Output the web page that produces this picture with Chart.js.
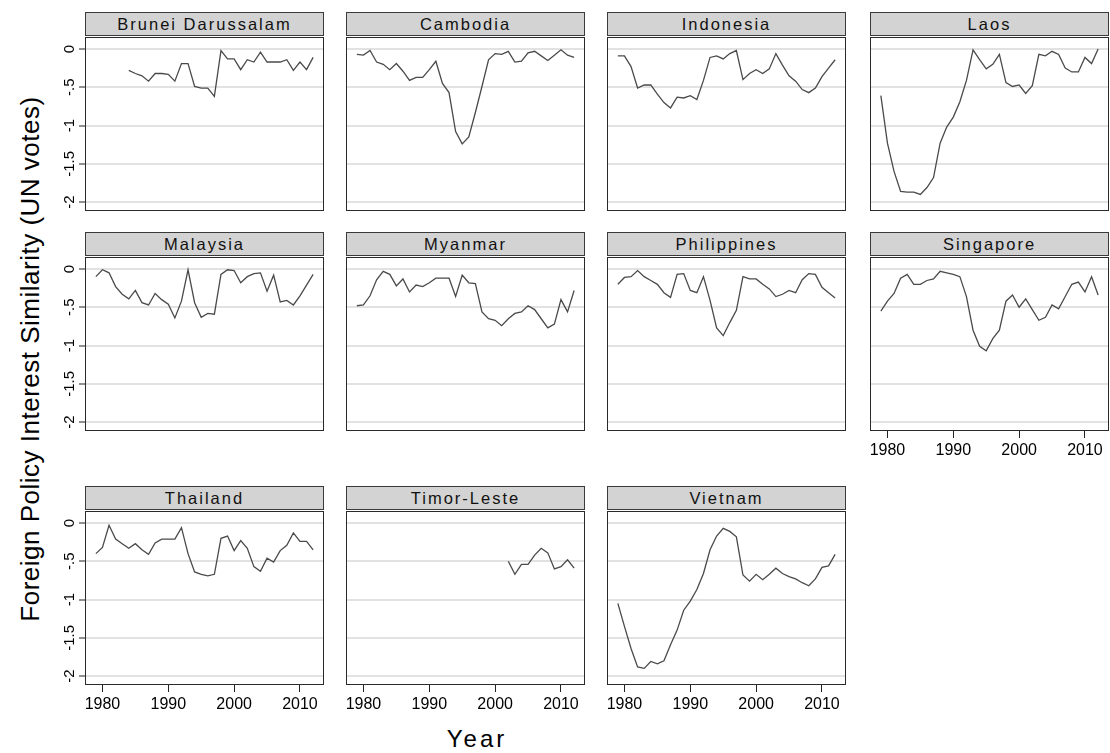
<!DOCTYPE html>
<html>
<head>
<meta charset="utf-8">
<script src="https://cdn.jsdelivr.net/npm/chart.js@4.4.1/dist/chart.umd.min.js"></script>
<style>
  body { margin: 0; background: #fff; }
  #page { position: relative; width: 1110px; height: 753px; overflow: hidden;
          font-family: "Liberation Sans", Arial, sans-serif; color: #000; }
  .hdr { position: absolute; box-sizing: border-box; width: 239px; height: 24px;
         background: #d3d3d3; border: 1px solid #3a3a3a; text-align: center;
         font-size: 16.5px; letter-spacing: 2px; line-height: 22px; color: #111; }
  .cv { position: absolute; }
  #ytitle { position: absolute; left: 30px; top: 359px; white-space: nowrap;
            transform: translate(-50%, -50%) rotate(-90deg); font-size: 26px; letter-spacing: 0.5px; }
  #xtitle { position: absolute; left: 477px; top: 739px; transform: translate(-50%, -50%);
            font-size: 24px; letter-spacing: 3px; }
</style>
</head>
<body>
<div id="page">
  <div id="ytitle">Foreign Policy Interest Similarity (UN votes)</div>
  <div id="xtitle">Year</div>
</div>
<script>
const years = [1979, 1980, 1981, 1982, 1983, 1984, 1985, 1986, 1987, 1988, 1989, 1990,
  1991, 1992, 1993, 1994, 1995, 1996, 1997, 1998, 1999, 2000, 2001, 2002, 2003, 2004,
  2005, 2006, 2007, 2008, 2009, 2010, 2011, 2012];

const xTicks = [1980, 1990, 2000, 2010];
const yTicks = [0, -0.5, -1, -1.5, -2];
const yTickLabels = ["0", "-.5", "-1", "-1.5", "-2"];

// values 1979..2012, null where the country has no votes
const brunei = [null, null, null, null, null,
  -0.28, -0.32, -0.35, -0.42, -0.32, -0.32, -0.33, -0.42, -0.19, -0.19, -0.49, -0.51,
  -0.51, -0.62, -0.02, -0.13, -0.13, -0.27, -0.14, -0.17, -0.04, -0.17, -0.17, -0.17,
  -0.14, -0.28, -0.17, -0.27, -0.11];
const cambodia = [-0.07, -0.08, -0.02, -0.17, -0.20, -0.27, -0.19, -0.29, -0.41, -0.37,
  -0.37, -0.27, -0.16, -0.45, -0.57, -1.08, -1.24, -1.15, -0.83, -0.49, -0.14, -0.06,
  -0.07, -0.03, -0.17, -0.16, -0.05, -0.03, -0.09, -0.15, -0.08, -0.01, -0.08, -0.11];
const indonesia = [-0.09, -0.09, -0.23, -0.51, -0.47, -0.47, -0.59, -0.70, -0.77, -0.63,
  -0.64, -0.61, -0.66, -0.41, -0.11, -0.09, -0.13, -0.06, -0.02, -0.40, -0.32, -0.27,
  -0.32, -0.26, -0.06, -0.21, -0.35, -0.42, -0.53, -0.57, -0.51, -0.36, -0.25, -0.14];
const laos = [-0.61, -1.23, -1.60, -1.86, -1.87, -1.87, -1.90, -1.81, -1.68, -1.23,
  -1.02, -0.89, -0.69, -0.41, -0.01, -0.14, -0.26, -0.20, -0.07, -0.44, -0.49, -0.47,
  -0.58, -0.48, -0.07, -0.09, -0.03, -0.07, -0.25, -0.30, -0.30, -0.11, -0.19, 0.00];
const malaysia = [-0.10, -0.01, -0.05, -0.23, -0.33, -0.39, -0.28, -0.44, -0.47, -0.32,
  -0.40, -0.46, -0.64, -0.42, -0.01, -0.44, -0.63, -0.58, -0.59, -0.07, -0.01, -0.02,
  -0.18, -0.10, -0.06, -0.05, -0.29, -0.08, -0.43, -0.41, -0.47, -0.35, -0.21, -0.07];
const myanmar = [-0.48, -0.47, -0.35, -0.14, -0.03, -0.07, -0.22, -0.13, -0.30, -0.21,
  -0.23, -0.18, -0.12, -0.12, -0.12, -0.36, -0.08, -0.18, -0.19, -0.56, -0.65, -0.67,
  -0.74, -0.65, -0.58, -0.56, -0.48, -0.53, -0.65, -0.77, -0.72, -0.40, -0.56, -0.28];
const philippines = [-0.20, -0.11, -0.10, -0.02, -0.10, -0.15, -0.20, -0.31, -0.37, -0.07,
  -0.06, -0.28, -0.31, -0.10, -0.41, -0.77, -0.87, -0.70, -0.54, -0.10, -0.13, -0.13,
  -0.20, -0.26, -0.36, -0.33, -0.28, -0.31, -0.14, -0.06, -0.07, -0.24, -0.31, -0.38];
const singapore = [-0.55, -0.42, -0.32, -0.12, -0.07, -0.20, -0.20, -0.15, -0.13, -0.03,
  -0.05, -0.07, -0.10, -0.36, -0.80, -1.01, -1.07, -0.91, -0.80, -0.42, -0.34, -0.50,
  -0.39, -0.53, -0.67, -0.63, -0.47, -0.52, -0.36, -0.20, -0.17, -0.30, -0.10, -0.34];
const thailand = [-0.40, -0.32, -0.03, -0.21, -0.27, -0.33, -0.27, -0.35, -0.41, -0.26,
  -0.21, -0.21, -0.21, -0.06, -0.40, -0.64, -0.67, -0.69, -0.67, -0.20, -0.17, -0.36,
  -0.23, -0.33, -0.57, -0.63, -0.46, -0.51, -0.36, -0.29, -0.13, -0.24, -0.24, -0.35];
const timorLeste = [null, null, null, null, null, null, null, null, null, null, null, null,
  null, null, null, null, null, null, null, null, null, null, null,
  -0.50, -0.67, -0.54, -0.54, -0.42, -0.33, -0.39, -0.60, -0.57, -0.48, -0.59];
const vietnam = [-1.05, -1.35, -1.64, -1.88, -1.90, -1.81, -1.84, -1.80, -1.59, -1.40,
  -1.14, -1.02, -0.87, -0.66, -0.35, -0.17, -0.07, -0.11, -0.18, -0.68, -0.76, -0.67,
  -0.74, -0.67, -0.59, -0.66, -0.70, -0.73, -0.78, -0.82, -0.73, -0.58, -0.56, -0.41];

const panels = [
  { name: "Brunei Darussalam", values: brunei },
  { name: "Cambodia", values: cambodia },
  { name: "Indonesia", values: indonesia },
  { name: "Laos", values: laos },
  { name: "Malaysia", values: malaysia },
  { name: "Myanmar", values: myanmar },
  { name: "Philippines", values: philippines },
  { name: "Singapore", values: singapore },
  { name: "Thailand", values: thailand },
  { name: "Timor-Leste", values: timorLeste },
  { name: "Vietnam", values: vietnam },
];

// layout of the grid of plot regions
const COL_LEFT = [85, 346, 607, 870];
const ROW_TOP = [37, 257, 511];
const PLOT_W = 239;
const PLOT_H = 174;
const Y_AXIS_W = 30;
const X_AXIS_H = 34;
const X_MIN = 1977.35, X_MAX = 2013.65;
const Y_MIN = -2.117, Y_MAX = 0.157;

const FONT = '"Liberation Sans", Arial, sans-serif';
Chart.defaults.font.family = FONT;

const framePlugin = {
  id: "frame",
  afterDraw(chart, args, opts) {
    const { ctx, chartArea: a } = chart;
    ctx.save();
    ctx.strokeStyle = "#2a2a2a";
    ctx.lineWidth = 1;
    ctx.strokeRect(a.left + 0.5, a.top + 0.5, a.right - a.left - 1, a.bottom - a.top - 1);
    if (opts.yLabels) {
      const ys = chart.scales.y;
      ctx.fillStyle = "#000";
      ctx.font = "15px " + FONT;
      ctx.textAlign = "center";
      ctx.textBaseline = "bottom";
      yTicks.forEach((v, i) => {
        ctx.save();
        ctx.translate(a.left - 8, ys.getPixelForValue(v));
        ctx.rotate(-Math.PI / 2);
        ctx.fillText(yTickLabels[i], 0, 0);
        ctx.restore();
      });
    }
    ctx.restore();
  },
};

const page = document.getElementById("page");

panels.forEach((p, idx) => {
  const col = idx % 4;
  const row = Math.floor(idx / 4);
  const isLeft = col === 0;
  const isBottom = row === 2 || (row === 1 && col === 3);

  const hdr = document.createElement("div");
  hdr.className = "hdr";
  hdr.style.left = COL_LEFT[col] + "px";
  hdr.style.top = ROW_TOP[row] - 25 + "px";
  hdr.textContent = p.name;
  page.appendChild(hdr);

  const w = PLOT_W + (isLeft ? Y_AXIS_W : 0);
  const h = PLOT_H + (isBottom ? X_AXIS_H : 0);
  const canvas = document.createElement("canvas");
  canvas.className = "cv";
  canvas.width = w;
  canvas.height = h;
  canvas.style.width = w + "px";
  canvas.style.height = h + "px";
  canvas.style.left = COL_LEFT[col] - (isLeft ? Y_AXIS_W : 0) + "px";
  canvas.style.top = ROW_TOP[row] + "px";
  page.appendChild(canvas);

  new Chart(canvas, {
    type: "line",
    data: {
      datasets: [{
        data: years.map((y, i) => ({ x: y, y: p.values[i] })),
        borderColor: "#4a4a4a",
        borderWidth: 1.3,
        pointRadius: 0,
        fill: false,
        tension: 0,
        spanGaps: false,
      }],
    },
    options: {
      responsive: false,
      animation: false,
      devicePixelRatio: 1,
      events: [],
      layout: { padding: 0 },
      plugins: {
        legend: { display: false },
        tooltip: { enabled: false },
        frame: { yLabels: isLeft },
      },
      scales: {
        x: {
          type: "linear",
          min: X_MIN,
          max: X_MAX,
          display: isBottom,
          afterBuildTicks: (s) => { s.ticks = xTicks.map((v) => ({ value: v })); },
          afterFit: (s) => {
            s.height = isBottom ? X_AXIS_H : 0;
            s.paddingLeft = 0;
            s.paddingRight = 0;
          },
          grid: { drawOnChartArea: false, drawTicks: true, tickLength: 7, tickColor: "#222", tickWidth: 1 },
          border: { display: false },
          ticks: {
            color: "#000",
            font: { size: 16 },
            padding: 3,
            maxRotation: 0,
            autoSkip: false,
            callback: (v) => String(v),
          },
        },
        y: {
          type: "linear",
          min: Y_MIN,
          max: Y_MAX,
          afterBuildTicks: (s) => { s.ticks = yTicks.map((v) => ({ value: v })); },
          afterFit: (s) => {
            s.width = isLeft ? Y_AXIS_W : 0;
            s.paddingTop = 0;
            s.paddingBottom = 0;
          },
          grid: { color: "#e2e2e2", lineWidth: 2, drawTicks: isLeft, tickLength: 6, tickColor: "#222", tickWidth: 1 },
          border: { display: false },
          ticks: { display: false },
        },
      },
    },
    plugins: [framePlugin],
  });
});
</script>
</body>
</html>
